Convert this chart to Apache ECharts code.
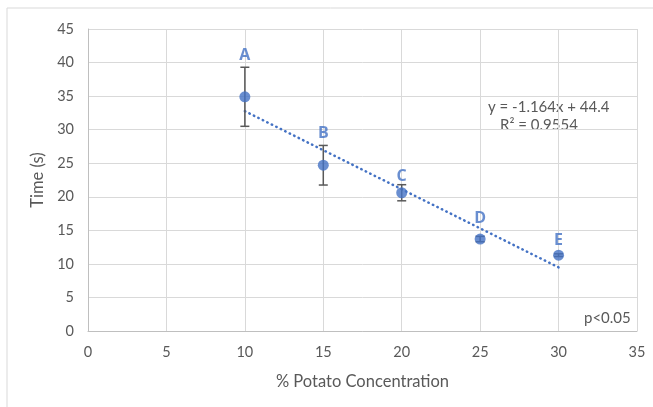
<!DOCTYPE html>
<html>
<head>
<meta charset="utf-8">
<script src="https://cdn.jsdelivr.net/npm/echarts@6/dist/echarts.min.js"></script>
<style>
  html, body { margin: 0; padding: 0; background: #fff; }
  #main { width: 653px; height: 407px; }
</style>
</head>
<body>
<div id="main"></div>
<script>
// values
var concentration = [10, 15, 20, 25, 30];
var timeMean = [34.9, 24.7, 20.6, 13.7, 11.3];
var timeErr = [4.4, 2.95, 1.2, 0.4, 0.2];
var pointNames = ['A', 'B', 'C', 'D', 'E'];
var labelY = [41.0, 29.5, 23.1, 16.8, 13.5];
var slope = -1.164, intercept = 44.4;
var trendX = [10, 30];
var eqText = 'y = -1.164x + 44.4';
var r2Text = 'R² = 0.9554';
var pText = 'p<0.05';

var txt = '#595959';
var blue = '#4472C4';
var font = 'Lato, "Liberation Sans", sans-serif';

var points = concentration.map(function (x, i) { return [x, timeMean[i]]; });
var errData = concentration.map(function (x, i) {
    return [x, timeMean[i] - timeErr[i], timeMean[i] + timeErr[i]];
});
var labelData = concentration.map(function (x, i) { return { value: [x, labelY[i]], name: pointNames[i] }; });
var trend = trendX.map(function (x) { return [x, slope * x + intercept]; });

var chart = echarts.init(document.getElementById('main'));
var option = {
    animation: false,
    backgroundColor: '#fff',
    grid: { left: 88, right: 16, top: 29, bottom: 76 },
    graphic: [{
        type: 'rect', silent: true, z: -10,
        shape: { x: 7, y: 8, width: 660, height: 420 },
        style: { fill: 'none', stroke: '#d9d9d9', lineWidth: 1 }
    }, {
        type: 'text', left: 488, top: 100,
        style: { text: eqText, fill: txt, font: '15px ' + font }
    }, {
        type: 'text', left: 500, top: 118,
        style: { text: r2Text, fill: txt, font: '15px ' + font }
    }, {
        type: 'text', left: 584, top: 311,
        style: { text: pText, fill: txt, font: '15px ' + font }
    }],
    xAxis: {
        type: 'value', min: 0, max: 35, interval: 5,
        name: '% Potato Concentration', nameLocation: 'middle', nameGap: 42,
        nameTextStyle: { color: txt, fontSize: 16.5, fontFamily: font },
        axisLine: { show: true, lineStyle: { color: '#bfbfbf' } },
        axisTick: { show: false },
        axisLabel: { color: txt, fontSize: 14.5, fontFamily: font, margin: 14 },
        splitLine: { show: true, lineStyle: { color: '#d9d9d9' } }
    },
    yAxis: {
        type: 'value', min: 0, max: 45, interval: 5,
        name: 'Time (s)', nameLocation: 'middle', nameGap: 39,
        nameTextStyle: { color: txt, fontSize: 16.5, fontFamily: font },
        axisLine: { show: true, lineStyle: { color: '#bfbfbf' } },
        axisTick: { show: false },
        axisLabel: { color: txt, fontSize: 14.5, fontFamily: font, margin: 14 },
        splitLine: { show: true, lineStyle: { color: '#d9d9d9' } }
    },
    series: [{
        type: 'line',
        data: trend,
        showSymbol: false,
        lineStyle: { color: blue, width: 2.5, type: [0.5, 4.5], cap: 'round' },
        z: 2
    }, {
        type: 'custom',
        data: errData,
        z: 3,
        renderItem: function (params, api) {
            var x = api.value(0);
            var lo = api.coord([x, api.value(1)]);
            var hi = api.coord([x, api.value(2)]);
            var w = 4.5;
            var st = { stroke: '#595959', lineWidth: 1.5 };
            return {
                type: 'group',
                children: [
                    { type: 'line', shape: { x1: lo[0], y1: lo[1], x2: hi[0], y2: hi[1] }, style: st },
                    { type: 'line', shape: { x1: lo[0] - w, y1: lo[1], x2: lo[0] + w, y2: lo[1] }, style: st },
                    { type: 'line', shape: { x1: hi[0] - w, y1: hi[1], x2: hi[0] + w, y2: hi[1] }, style: st }
                ]
            };
        }
    }, {
        type: 'scatter',
        data: points,
        symbolSize: 11,
        itemStyle: { color: blue },
        z: 4
    }, {
        type: 'scatter',
        data: labelData,
        symbolSize: 0,
        z: 5,
        label: {
            show: true, position: 'inside',
            formatter: function (p) { return p.name; },
            color: blue, fontSize: 16, fontWeight: 'bold', fontFamily: '"Open Sans", "Liberation Sans", sans-serif'
        }
    }]
};
chart.setOption(option);
</script>
</body>
</html>
